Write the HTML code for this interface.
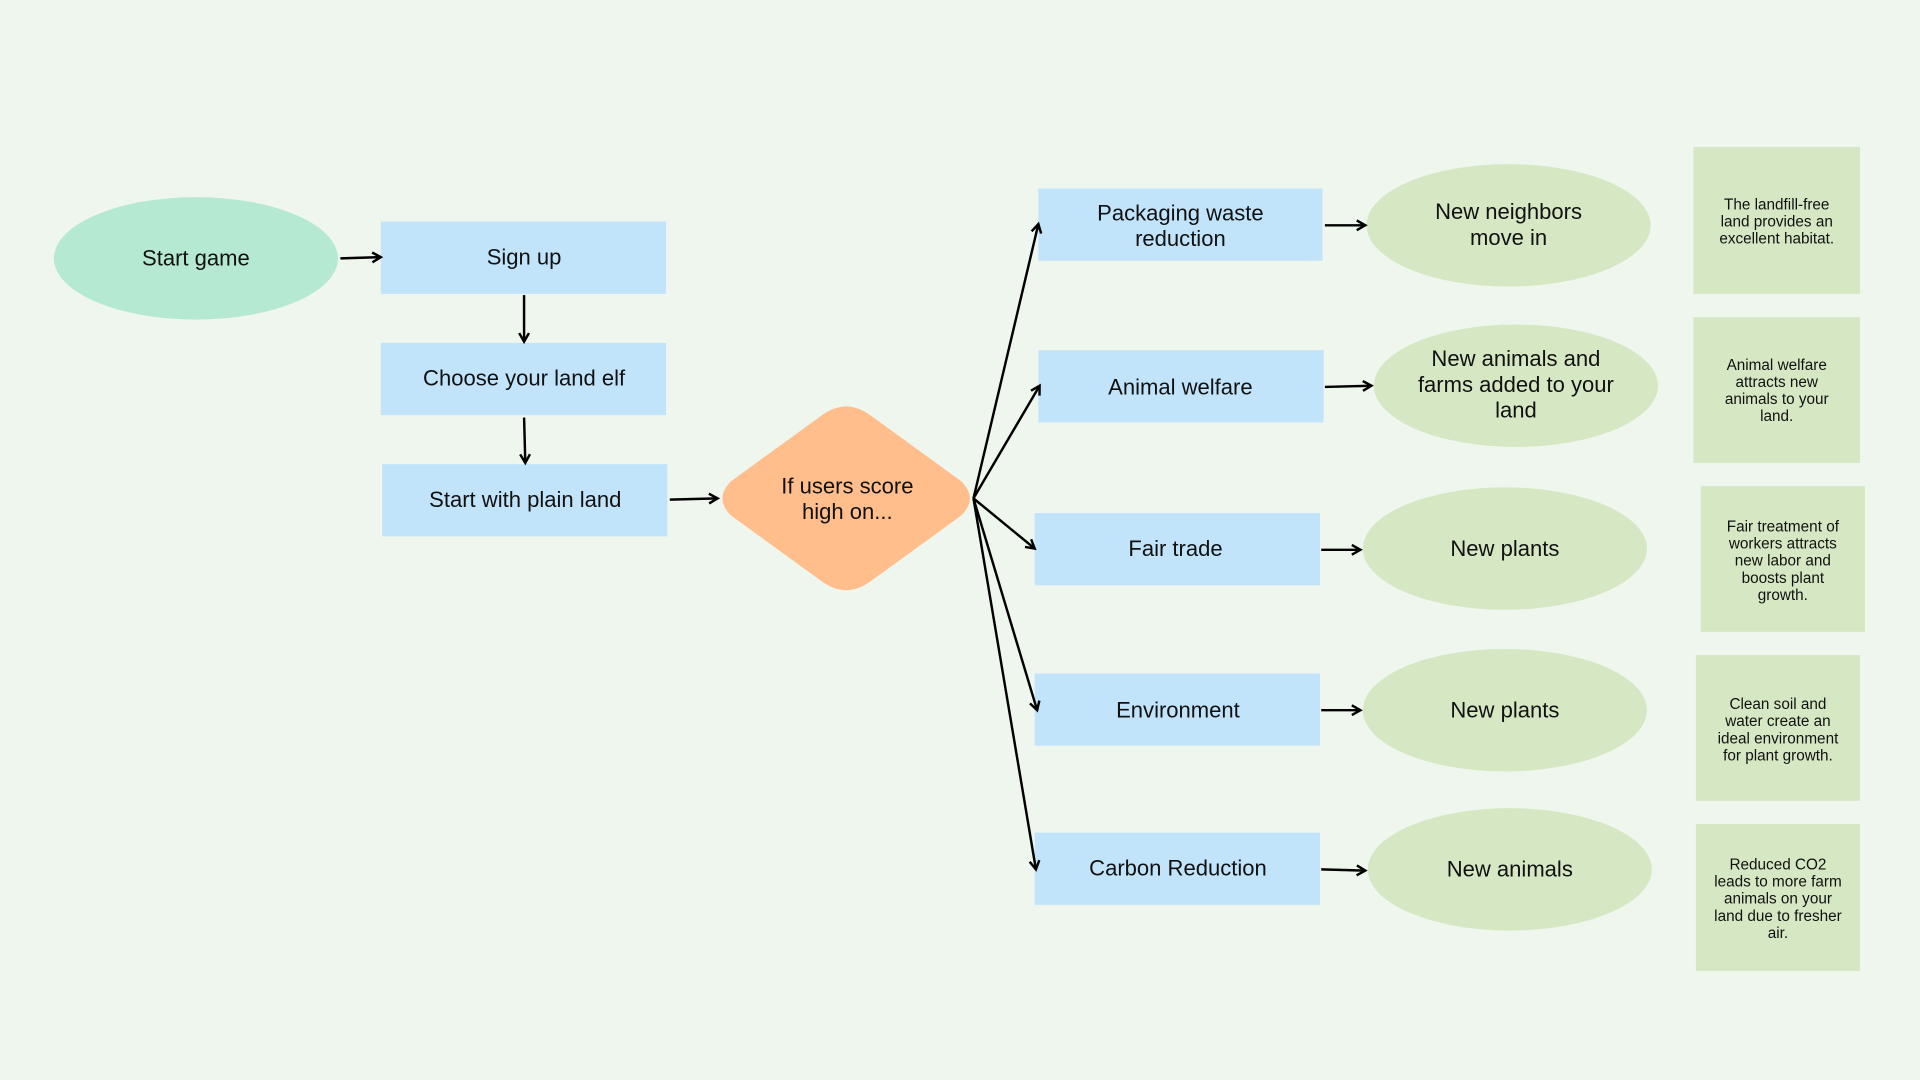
<!DOCTYPE html>
<html><head><meta charset="utf-8"><style>
html,body{margin:0;padding:0;background:#eff6ee;}
svg{display:block;}
text{font-family:"Liberation Sans",sans-serif;fill:#111;text-anchor:middle;}
.m{font-size:18px;}
.n{font-size:12.5px;}
</style></head><body>
<svg width="1920" height="1080" viewBox="0 0 1568 882" xmlns="http://www.w3.org/2000/svg">
<defs><marker id="a" markerWidth="10" markerHeight="10" refX="8" refY="5" orient="auto" markerUnits="userSpaceOnUse"><path d="M1,1 L8,5 L1,9" fill="none" stroke="#000" stroke-width="2"/></marker></defs>
<rect width="1568" height="882" fill="#eff6ee"/>
<ellipse cx="160" cy="211" rx="116" ry="50" fill="#b6e9d2"/>
<text class="m" x="160" y="217">Start game</text>
<g fill="#c2e4fb">
<rect x="311" y="181" width="233" height="59"/>
<rect x="311" y="280" width="233" height="59"/>
<rect x="312" y="379" width="233" height="59"/>
<rect x="848" y="154" width="232" height="59"/>
<rect x="848" y="286" width="233" height="59"/>
<rect x="845" y="419" width="233" height="59"/>
<rect x="845" y="550" width="233" height="59"/>
<rect x="845" y="680" width="233" height="59"/>
</g>
<text class="m" x="428" y="216">Sign up</text>
<text class="m" x="428" y="315">Choose your land elf</text>
<text class="m" x="429" y="414">Start with plain land</text>
<text class="m" x="964" y="180">Packaging waste</text>
<text class="m" x="964" y="201">reduction</text>
<text class="m" x="964" y="322">Animal welfare</text>
<text class="m" x="960" y="454">Fair trade</text>
<text class="m" x="962" y="586">Environment</text>
<text class="m" x="962" y="715">Carbon Reduction</text>
<path d="M670,340 Q691,324 712,340 L785,393 Q799,407 785,421 L712,474 Q691,490 670,474 L597,421 Q583,407 597,393 Z" fill="#ffbe8c"/>
<text class="m" x="692" y="403">If users score</text>
<text class="m" x="692" y="424">high on...</text>
<g fill="#d5e8c3">
<ellipse cx="1232" cy="184" rx="116" ry="50"/>
<ellipse cx="1238" cy="315" rx="116" ry="50"/>
<ellipse cx="1229" cy="448" rx="116" ry="50"/>
<ellipse cx="1229" cy="580" rx="116" ry="50"/>
<ellipse cx="1233" cy="710" rx="116" ry="50"/>
<rect x="1383" y="120" width="136" height="120"/>
<rect x="1383" y="259" width="136" height="119"/>
<rect x="1389" y="397" width="134" height="119"/>
<rect x="1385" y="535" width="134" height="119"/>
<rect x="1385" y="673" width="134" height="120"/>
</g>
<text class="m" x="1232" y="179">New neighbors</text>
<text class="m" x="1232" y="200">move in</text>
<text class="m" x="1238" y="299">New animals and</text>
<text class="m" x="1238" y="320">farms added to your</text>
<text class="m" x="1238" y="341">land</text>
<text class="m" x="1229" y="454">New plants</text>
<text class="m" x="1229" y="586">New plants</text>
<text class="m" x="1233" y="716">New animals</text>
<g class="n">
<text class="n" x="1451" y="171">The landfill-free</text>
<text class="n" x="1451" y="185">land provides an</text>
<text class="n" x="1451" y="199">excellent habitat.</text>
<text class="n" x="1451" y="302">Animal welfare</text>
<text class="n" x="1451" y="316">attracts new</text>
<text class="n" x="1451" y="330">animals to your</text>
<text class="n" x="1451" y="344">land.</text>
<text class="n" x="1456" y="434">Fair treatment of</text>
<text class="n" x="1456" y="448">workers attracts</text>
<text class="n" x="1456" y="462">new labor and</text>
<text class="n" x="1456" y="476">boosts plant</text>
<text class="n" x="1456" y="490">growth.</text>
<text class="n" x="1452" y="579">Clean soil and</text>
<text class="n" x="1452" y="593">water create an</text>
<text class="n" x="1452" y="607">ideal environment</text>
<text class="n" x="1452" y="621">for plant growth.</text>
<text class="n" x="1452" y="710">Reduced CO2</text>
<text class="n" x="1452" y="724">leads to more farm</text>
<text class="n" x="1452" y="738">animals on your</text>
<text class="n" x="1452" y="752">land due to fresher</text>
<text class="n" x="1452" y="766">air.</text>
</g>
<g stroke="#000" stroke-width="2" fill="none" marker-end="url(#a)">
<line x1="278" y1="211" x2="311" y2="210"/>
<line x1="428" y1="241" x2="428" y2="279"/>
<line x1="428" y1="341" x2="429" y2="378"/>
<line x1="547" y1="408" x2="586" y2="407"/>
<line x1="795" y1="407" x2="848" y2="183"/>
<line x1="795" y1="407" x2="849" y2="315"/>
<line x1="795" y1="407" x2="845" y2="448"/>
<line x1="795" y1="407" x2="847" y2="580"/>
<line x1="795" y1="407" x2="846" y2="710"/>
<line x1="1082" y1="184" x2="1115" y2="184"/>
<line x1="1082" y1="316" x2="1120" y2="315"/>
<line x1="1079" y1="449" x2="1111" y2="449"/>
<line x1="1079" y1="580" x2="1111" y2="580"/>
<line x1="1079" y1="710" x2="1115" y2="711"/>
</g>
</svg>
</body></html>
